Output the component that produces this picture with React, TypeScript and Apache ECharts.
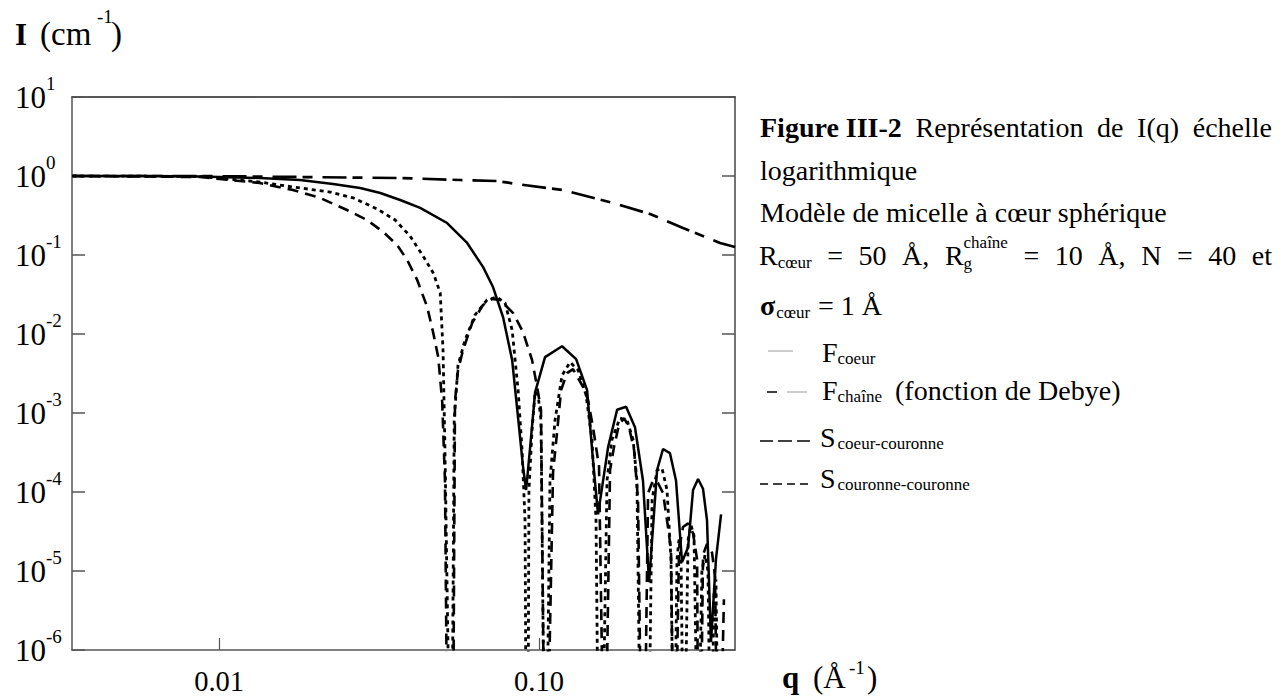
import React, { useEffect, useRef } from "react";
import * as echarts from "echarts";

const FONT = '"Liberation Serif", "Times New Roman", serif';
const MAIN = 28;

// axis ranges (log scales)
const Q_MIN = 0.003467;
const Q_MAX = 0.4098;
const I_MIN = 1e-6;
const I_MAX = 10;
const X_TICK_VALUES = [0.01, 0.1];
const X_TICK_LABELS = ["0.01", "0.10"];

// F coeur (solid)
const qCoeur = [0.00348, 0.00609, 0.00873, 0.0134, 0.0179, 0.0227, 0.0276, 0.0319, 0.0368, 0.0425, 0.0516, 0.0596, 0.0668, 0.0718, 0.0772, 0.0824, 0.0866, 0.0891, 0.0911, 0.0938, 0.0972, 0.1044, 0.118, 0.1306, 0.1413, 0.1475, 0.1529, 0.1644, 0.1754, 0.1871, 0.1995, 0.2113, 0.2208, 0.2339, 0.2441, 0.2566, 0.268, 0.2799, 0.2924, 0.303, 0.3141, 0.3255, 0.335, 0.3447, 0.3573, 0.3707];
const iCoeur = [1, 1, 0.986, 0.943, 0.89, 0.792, 0.705, 0.609, 0.497, 0.394, 0.254, 0.142, 0.0707, 0.0393, 0.0163, 0.00467, 6.6e-4, 2.1e-4, 1.06e-4, 3.7e-4, 1.82e-3, 5.1e-3, 7.0e-3, 4.8e-3, 1.95e-3, 2.5e-4, 5.2e-5, 3.7e-4, 1.1e-3, 1.2e-3, 6.6e-4, 1.4e-4, 7.2e-6, 1.9e-4, 3.5e-4, 3.1e-4, 1.4e-4, 1.3e-5, 2.0e-5, 1.06e-4, 1.46e-4, 1.1e-4, 4.4e-5, 1.26e-6, 1.4e-5, 5.2e-5];

// F chaîne (Debye, long dash)
const qChaine = [0.00348, 0.00873, 0.0179, 0.0368, 0.0567, 0.074, 0.0873, 0.1189, 0.1703, 0.2223, 0.2818, 0.3681, 0.4098];
const iChaine = [1, 1, 0.971, 0.943, 0.89, 0.864, 0.781, 0.665, 0.455, 0.33, 0.22, 0.142, 0.126];

// S coeur-couronne (medium dash)
const qCoeurCour = [0.00348, 0.00873, 0.0134, 0.017, 0.0207, 0.0251, 0.029, 0.0326, 0.036, 0.0387, 0.0416, 0.0447, 0.0467, 0.0484, 0.0498, 0.0508, 0.0516,
  0.0539, 0.0546, 0.0558, 0.0579, 0.0618, 0.0668, 0.0713, 0.0755, 0.083, 0.0891, 0.0951, 0.0986, 0.1014, 0.1037,
  0.1067, 0.1106, 0.1138, 0.1172, 0.1223, 0.1277, 0.1372, 0.1423, 0.1475, 0.154, 0.1585,
  0.162, 0.1667, 0.1715, 0.1778, 0.1844, 0.1911, 0.1982, 0.2039, 0.2084,
  0.2143, 0.2192, 0.2271, 0.2354, 0.2441, 0.253, 0.2585, 0.2624,
  0.268, 0.2739, 0.2818, 0.2924, 0.303, 0.3119, 0.3141,
  0.3209, 0.3255, 0.335, 0.3475, 0.355, 0.3597,
  0.3705, 0.3784];
const iCoeurCour = [1, 0.971, 0.815, 0.665, 0.527, 0.371, 0.277, 0.195, 0.134, 0.0866, 0.0482, 0.022, 0.0103, 0.0051, 1.4e-3, 1.4e-4, 1e-7,
  1e-7, 1.4e-3, 3.5e-3, 6.3e-3, 0.0138, 0.0233, 0.0278, 0.027, 0.0184, 0.0106, 0.00467, 0.00215, 1.1e-3, 1e-7,
  1e-7, 1.77e-4, 5.6e-4, 1.95e-3, 3.2e-3, 3.6e-3, 2.15e-3, 1.45e-3, 6.6e-4, 2.1e-4, 1e-7,
  1e-7, 1.9e-4, 3.7e-4, 7.1e-4, 8.6e-4, 6.6e-4, 3.4e-4, 7.9e-5, 1e-7,
  1e-7, 9.7e-5, 1.4e-4, 1.3e-4, 9.7e-5, 3.6e-5, 1.85e-5, 1e-7,
  1e-7, 1.85e-5, 3.6e-5, 4e-5, 3e-5, 1.4e-5, 1e-7,
  1e-7, 1.6e-5, 2.2e-5, 1.7e-5, 8.3e-6, 1e-7,
  1e-7, 4.4e-6];

// S couronne-couronne (short dash)
const qCourCour = [0.00348, 0.00873, 0.0134, 0.017, 0.0222, 0.0263, 0.0312, 0.0355, 0.0395, 0.0434, 0.0467, 0.0491, 0.0501, 0.0508, 0.0524,
  0.0535, 0.0543, 0.0558, 0.0587, 0.0631, 0.0688, 0.0739, 0.0783, 0.0824, 0.086, 0.0885, 0.0904, 0.0911,
  0.0924, 0.093, 0.0951, 0.0972, 0.0993, 0.1014, 0.1037,
  0.1059, 0.1082, 0.1122, 0.118, 0.125, 0.1324, 0.1402, 0.1464, 0.1507, 0.1529,
  0.1585, 0.1631, 0.169, 0.179, 0.1884, 0.1968, 0.2023, 0.2069,
  0.2208, 0.2256, 0.2339, 0.2423, 0.2512, 0.2585, 0.2624,
  0.2661, 0.2699, 0.2738, 0.2779, 0.2818,
  0.2858, 0.2924, 0.2985, 0.3051, 0.3119,
  0.3162, 0.3229, 0.3303, 0.3373, 0.3424,
  0.3473, 0.3524, 0.3573, 0.3623];
const iCourCour = [1, 0.986, 0.839, 0.726, 0.627, 0.527, 0.382, 0.277, 0.174, 0.097, 0.0591, 0.0332, 6.3e-3, 3.4e-4, 1e-7,
  1e-7, 8.1e-4, 4.0e-3, 8.4e-3, 0.0175, 0.027, 0.0294, 0.0247, 0.0112, 1.95e-3, 3.4e-4, 4.4e-5, 1e-7,
  1e-7, 1.06e-4, 6.1e-4, 1.85e-3, 1.7e-3, 8.1e-4, 1e-7,
  1e-7, 1.4e-4, 8.1e-4, 3.0e-3, 4.4e-3, 3.5e-3, 1.7e-3, 4.6e-4, 4.4e-5, 1e-7,
  1e-7, 1.4e-4, 4.6e-4, 8.6e-4, 8.1e-4, 4.6e-4, 1.4e-4, 1e-7,
  1e-7, 7.9e-5, 1.9e-4, 2.0e-4, 1.06e-4, 1.4e-5, 1e-7,
  1e-7, 1.4e-5, 2.5e-5, 1.4e-5, 1e-7,
  1e-7, 2.5e-5, 3.8e-5, 2.8e-5, 1e-7,
  1e-7, 1.0e-5, 1.6e-5, 1.0e-5, 1e-7,
  1e-7, 5.8e-6, 7.8e-6, 1e-7];

const zip = (q: number[], v: number[]) => q.map((x, k) => [x, v[k]]);

let measureCtx: CanvasRenderingContext2D | null = null;
function textWidth(t: string, size: number, bold?: boolean) {
  if (!measureCtx) measureCtx = document.createElement("canvas").getContext("2d");
  measureCtx!.font = `${bold ? "bold " : ""}${size}px ${FONT}`;
  return measureCtx!.measureText(t).width;
}

type Seg = { t: string; s?: number; b?: boolean; dy?: number; dx?: number; hold?: boolean; ax?: number };

function segsWidth(segs: Seg[]) {
  let x = 0;
  let w = 0;
  for (const sg of segs) {
    x += sg.dx || 0;
    const wd = textWidth(sg.t, sg.s || MAIN, sg.b);
    w = Math.max(w, x + wd);
    if (!sg.hold) x += wd;
  }
  return w;
}

function runEls(x0: number, base: number, segs: Seg[]) {
  const els: any[] = [];
  let x = x0;
  for (const sg of segs) {
    if (sg.ax !== undefined) x = sg.ax;
    x += sg.dx || 0;
    const s = sg.s || MAIN;
    els.push({
      type: "text",
      x,
      y: base + (sg.dy || 0) - 0.34 * s,
      silent: true,
      style: {
        text: sg.t,
        font: `${sg.b ? "bold " : ""}${s}px ${FONT}`,
        fill: "#000",
        align: "left",
        verticalAlign: "middle",
      },
    });
    if (!sg.hold) x += textWidth(sg.t, s, sg.b);
  }
  return els;
}

function justifyEls(x0: number, x1: number, base: number, tokens: Seg[][]) {
  const widths = tokens.map(segsWidth);
  const total = widths.reduce((a, b) => a + b, 0);
  const gap = (x1 - x0 - total) / (tokens.length - 1);
  let x = x0;
  const els: any[] = [];
  tokens.forEach((tk, k) => {
    els.push(...runEls(x, base, tk));
    x += widths[k] + gap;
  });
  return els;
}

const SUB = 17;

function buildGraphics() {
  const els: any[] = [];
  // y-axis title
  els.push(...runEls(15, 45, [
    { t: "I", b: true, s: 31 },
    { t: "(cm", s: 33, ax: 40 },
    { t: "-1", s: 19, dy: -22, ax: 97 },
    { t: ")", s: 33, ax: 111 },
  ]));
  // x-axis title
  els.push(...runEls(782, 688, [
    { t: "q", b: true, s: 31 },
    { t: "(Å", s: 31, ax: 813 },
    { t: "-1", s: 19, dy: -14, ax: 849 },
    { t: ")", s: 31, ax: 867 },
  ]));
  // caption
  els.push(...justifyEls(760, 1272, 137, [
    [{ t: "Figure III-2", b: true }],
    [{ t: "Représentation" }],
    [{ t: "de" }],
    [{ t: "I(q)" }],
    [{ t: "échelle" }],
  ]));
  els.push(...runEls(760, 180, [{ t: "logarithmique" }]));
  els.push(...runEls(760, 222, [{ t: "Modèle de micelle à cœur sphérique" }]));
  els.push(...justifyEls(759, 1272, 265, [
    [{ t: "R" }, { t: "cœur", s: SUB, dy: 3 }],
    [{ t: "=" }],
    [{ t: "50" }],
    [{ t: "Å," }],
    [{ t: "R" }, { t: "g", s: SUB, dy: 4, hold: true }, { t: "chaîne", s: SUB, dy: -17 }],
    [{ t: "=" }],
    [{ t: "10" }],
    [{ t: "Å," }],
    [{ t: "N" }],
    [{ t: "=" }],
    [{ t: "40" }],
    [{ t: "et" }],
  ]));
  els.push(...runEls(760, 315, [
    { t: "σ", b: true },
    { t: "cœur", s: SUB, dy: 3, dx: 1 },
    { t: "= 1 Å", ax: 818 },
  ]));
  // legend entries
  els.push(...runEls(822, 362, [{ t: "F" }, { t: "coeur", s: SUB, dy: 2, dx: 0 }]));
  els.push(...runEls(822, 400, [{ t: "F" }, { t: "chaîne", s: SUB, dy: 2 }, { t: "(fonction de Debye)", ax: 895 }]));
  els.push(...runEls(820, 447, [{ t: "S" }, { t: "coeur-couronne", s: SUB, dy: 2, dx: 2 }]));
  els.push(...runEls(820, 488, [{ t: "S" }, { t: "couronne-couronne", s: SUB, dy: 2, dx: 2 }]));
  // legend samples
  const ln = (x1: number, x2: number, y: number, c: string, w: number) => ({
    type: "line",
    silent: true,
    shape: { x1, y1: y, x2, y2: y },
    style: { stroke: c, lineWidth: w },
  });
  els.push(ln(768, 793, 351, "#999", 1));
  els.push(ln(767, 777, 392, "#000", 1.5));
  els.push(ln(787, 807, 392, "#999", 1));
  els.push(ln(760, 773, 441, "#000", 1.5));
  els.push(ln(778, 792, 441, "#000", 1.5));
  els.push(ln(797, 810, 441, "#000", 1.5));
  els.push(ln(760, 768, 484, "#000", 1.5));
  els.push(ln(773, 782, 484, "#000", 1.5));
  els.push(ln(787, 795, 484, "#000", 1.5));
  els.push(ln(800, 808, 484, "#000", 1.5));
  return els;
}

function xLabel(v: number) {
  for (let k = 0; k < X_TICK_VALUES.length; k++) {
    if (Math.abs(v - X_TICK_VALUES[k]) / X_TICK_VALUES[k] < 1e-6) return X_TICK_LABELS[k];
  }
  return "";
}

function yLabel(v: number) {
  const e = Math.round(Math.log10(v));
  return `{b|10}{s|${e}}`;
}

export default function App() {
  const ref = useRef<HTMLDivElement>(null);
  useEffect(() => {
    if (!ref.current) return;
    const chart = echarts.init(ref.current, null, { renderer: "svg" });
    const axisLine = { show: true, lineStyle: { color: "#555", width: 1.5 } };
    const baseX = { type: "log", min: Q_MIN, max: Q_MAX, logBase: 10, splitLine: { show: false }, minorTick: { show: false } };
    const baseY = { type: "log", min: I_MIN, max: I_MAX, logBase: 10, splitLine: { show: false } };
    const lineSeries = (name: string, data: number[][], type: any, width: number) => ({
      name,
      type: "line",
      data,
      showSymbol: false,
      symbol: "none",
      clip: true,
      xAxisIndex: 0,
      yAxisIndex: 0,
      lineStyle: { color: "#000", width, type },
      emphasis: { disabled: true },
    });
    chart.setOption({
      animation: false,
      backgroundColor: "#fff",
      grid: { left: 72, top: 97, width: 663, height: 553, containLabel: false },
      xAxis: [
        {
          ...baseX,
          position: "bottom",
          axisLine,
          axisTick: { show: true, inside: true, length: 12, lineStyle: { color: "#555", width: 1.2 } },
          axisLabel: { formatter: xLabel, fontSize: 28.5, fontFamily: FONT, color: "#000", margin: 17, showMinLabel: false, showMaxLabel: false },
        },
        {
          ...baseX,
          position: "top",
          axisLine: { show: true, lineStyle: { color: "#222", width: 1.5 } },
          axisTick: { show: false },
          axisLabel: { show: false },
        },
      ],
      yAxis: [
        {
          ...baseY,
          position: "left",
          axisLine,
          axisTick: { show: true, inside: true, length: 13, lineStyle: { color: "#555", width: 1.5 } },
          axisLabel: {
            formatter: yLabel,
            align: "left",
            margin: 57,
            rich: {
              b: { fontSize: 31, fontFamily: FONT, color: "#000", lineHeight: 46 },
              s: { fontSize: 19, fontFamily: FONT, color: "#000", lineHeight: 19, verticalAlign: "top" },
            },
          },
        },
        {
          ...baseY,
          position: "right",
          axisLine: { show: true, lineStyle: { color: "#444", width: 1.5 } },
          axisTick: { show: true, inside: true, length: 13, lineStyle: { color: "#555", width: 1.5 } },
          axisLabel: { show: false },
        },
      ],
      series: [
        lineSeries("F coeur", zip(qCoeur, iCoeur), "solid", 2.5),
        lineSeries("F chaîne (fonction de Debye)", zip(qChaine, iChaine), [24, 6, 10, 10], 2.7),
        lineSeries("S coeur-couronne", zip(qCoeurCour, iCoeurCour), [11, 7], 2.6),
        lineSeries("S couronne-couronne", zip(qCourCour, iCourCour), [4, 4], 2.8),
      ],
      graphic: { elements: buildGraphics() },
    });
    return () => chart.dispose();
  }, []);
  return (
    <div
      ref={ref}
      style={{ position: "fixed", left: 0, top: 0, width: 1288, height: 700, background: "#fff" }}
    />
  );
}
